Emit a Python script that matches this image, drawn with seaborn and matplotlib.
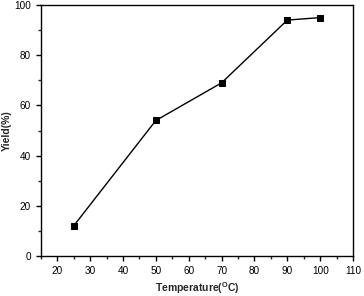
import matplotlib
matplotlib.use("Agg")
import matplotlib.pyplot as plt
import seaborn as sns
import pandas as pd
from matplotlib.ticker import MultipleLocator

temperature = [25, 50, 70, 90, 100]
yield_pct = [12, 54, 69, 94, 95]

sns.set_style("ticks")
plt.rcParams['font.family'] = ['Liberation Sans', 'DejaVu Sans']

df = pd.DataFrame({"Temperature": temperature, "Yield": yield_pct})

fig = plt.figure(figsize=(3.64, 2.96), dpi=100)
ax = fig.add_axes([0.112, 0.135, 0.858, 0.848])
sns.lineplot(data=df, x="Temperature", y="Yield", ax=ax, color="black",
             marker="s", markersize=4, markeredgecolor="black",
             markerfacecolor="black", linewidth=1.0)

ax.set_xlim(15, 110)
ax.set_ylim(0, 100)
ax.xaxis.set_major_locator(MultipleLocator(10))
ax.xaxis.set_minor_locator(MultipleLocator(5))
ax.yaxis.set_major_locator(MultipleLocator(20))
ax.yaxis.set_minor_locator(MultipleLocator(10))
ax.tick_params(which="major", direction="out", length=3.5, width=1, labelsize=7.2, colors="black")
ax.tick_params(which="minor", direction="out", length=2, width=1)
for s in ax.spines.values():
    s.set_visible(True)
    s.set_linewidth(1.0)
    s.set_color("black")
ax.set_xlabel("Temperature($^{\\mathregular{O}}$C)", fontsize=7.5, fontweight="bold", labelpad=3)
ax.set_ylabel("Yield(%)", fontsize=7.5, fontweight="bold", labelpad=1.5)

fig.savefig("out.png", dpi=100)
